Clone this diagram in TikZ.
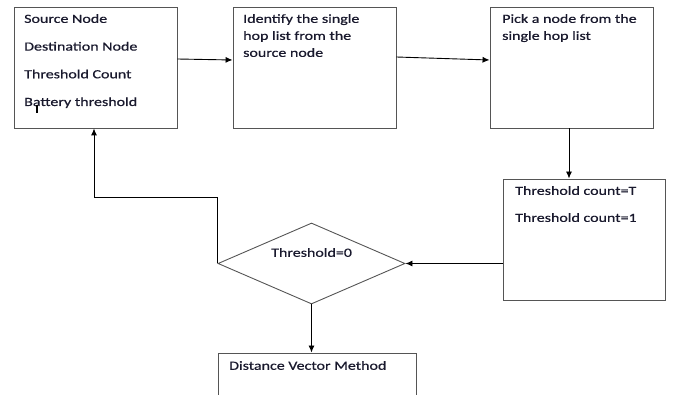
\documentclass[tikz,border=0pt]{standalone}
\usepackage{fontspec}
\setmainfont{Carlito}[FakeStretch=1.28,FakeBold=0.6]
\usetikzlibrary{arrows.meta,shapes.geometric}
\definecolor{linegray}{RGB}{85,85,85}
\definecolor{txtc}{RGB}{25,25,45}
\tikzset{
  box/.style={draw=linegray,line width=0.9pt,inner sep=0pt},
  txt/.style={inner sep=0pt,align=left,text=txtc,font=\fontsize{12.5}{17}\selectfont},
  arr/.style={-{Latex[length=7pt,width=6pt]},line width=0.9pt,black}
}
\begin{document}
\begin{tikzpicture}[x=1pt,y=-1pt]
                \useasboundingbox (0,0) rectangle (673,395);
                % boxes
                \node[box,minimum width=163pt,minimum height=121pt] (src) at (95.5,67.5) {};
                \node[box,minimum width=163pt,minimum height=121pt] (hop) at (314.5,67.5) {};
                \node[box,minimum width=163pt,minimum height=121pt] (pick) at (571.5,67.5) {};
                \node[box,minimum width=162pt,minimum height=121pt] (cnt) at (584,239.5) {};
                \node[box,diamond,minimum width=187pt,minimum height=81pt] (thr) at (311.5,263.5) {};
                \node[box,minimum width=198pt,minimum height=120pt] (dvm) at (317,413) {};
                % texts
                \node[txt,anchor=north west] (srctxt) at (24,14) {Source Node\\[10.7pt]Destination Node\\[10.7pt]Threshold Count\\[10.7pt]Battery threshold};
                \node[txt,anchor=north west] (hoptxt) at (243,14) {Identify the single\\hop list from the\\source node};
                \node[txt,anchor=north west] (picktxt) at (502,14) {Pick a node from the\\single hop list};
                \node[txt,anchor=north west] (cnttxt) at (515,186) {Threshold count=T\\[10pt]Threshold count=1};
                \node[txt,anchor=west] (thrtxt) at (271,252.5) {Threshold=0};
                \node[txt,anchor=west] (dvmtxt) at (229,365.5) {Distance Vector Method};
                \draw[line width=1.5pt] (37,105) -- (37,113);
                % connectors
                \coordinate (back) at (94,197);
                \draw[arr] ([yshift=8.5pt]src.east) -- ([yshift=7.5pt]hop.west);
                \draw[arr] ([yshift=10.5pt]hop.east) -- ([yshift=7.5pt]pick.west);
                \draw[arr] ([xshift=-2.5pt]pick.south) -- ([xshift=-2.5pt]pick.south |- cnt.north);
                \draw[arr] (cnt.west |- thr.east) -- (thr.east);
                \draw[arr] (thr.west) |- (back) -- (back |- src.south);
                \draw[arr] (thr.south) -- (thr.south |- dvm.north);
            \end{tikzpicture}
\end{document}
